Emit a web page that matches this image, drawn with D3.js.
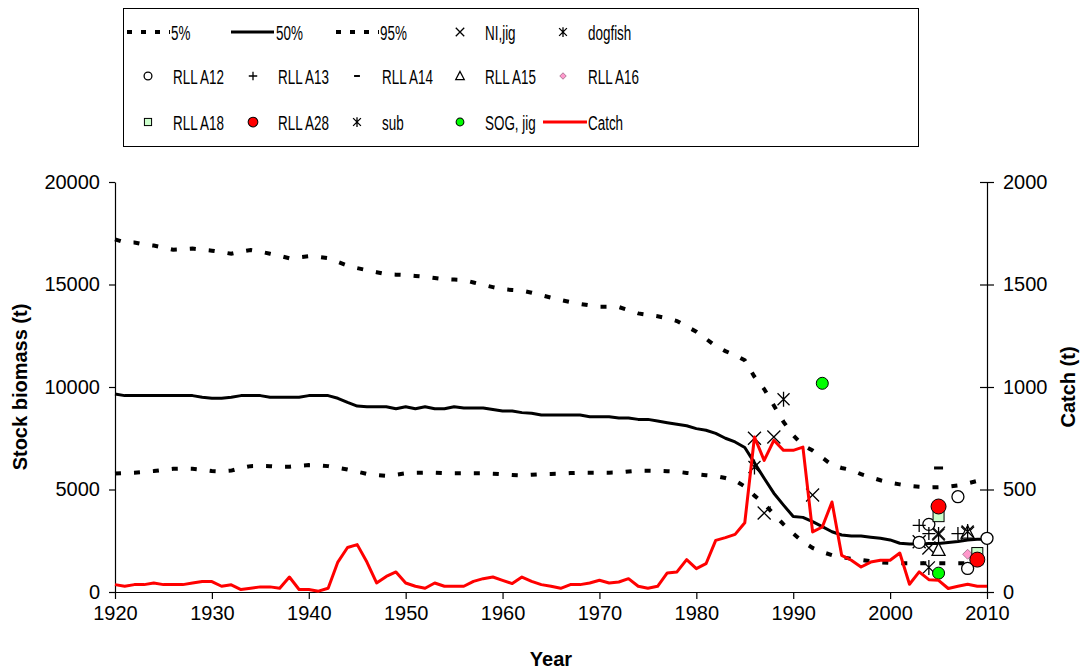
<!DOCTYPE html>
<html><head><meta charset="utf-8">
<script src="https://cdn.jsdelivr.net/npm/d3@7"></script>
<style>
body{margin:0;background:#fff;}
svg{display:block;font-family:"Liberation Sans",Arial,Helvetica,sans-serif;}
</style>
</head><body>
<svg id="chart" width="1083" height="670"></svg>
<script>
// ---------------- DATA ----------------
const years = [1920,1921,1922,1923,1924,1925,1926,1927,1928,1929,
  1930,1931,1932,1933,1934,1935,1936,1937,1938,1939,
  1940,1941,1942,1943,1944,1945,1946,1947,1948,1949,
  1950,1951,1952,1953,1954,1955,1956,1957,1958,1959,
  1960,1961,1962,1963,1964,1965,1966,1967,1968,1969,
  1970,1971,1972,1973,1974,1975,1976,1977,1978,1979,
  1980,1981,1982,1983,1984,1985,1986,1987,1988,1989,
  1990,1991,1992,1993,1994,1995,1996,1997,1998,1999,
  2000,2001,2002,2003,2004,2005,2006,2007,2008,2009,2010];

const p5 = [5780,5800,5820,5860,5900,5960,6010,6020,6010,5960,
  5900,5880,5920,6050,6140,6150,6140,6110,6110,6160,
  6190,6180,6140,6060,5980,5870,5760,5700,5660,5720,
  5790,5810,5820,5820,5800,5790,5790,5790,5790,5770,
  5740,5710,5690,5720,5750,5760,5770,5800,5820,5820,
  5820,5820,5830,5880,5920,5920,5910,5890,5870,5810,
  5750,5700,5660,5560,5430,5150,4700,4300,3800,3300,
  2850,2450,2150,1950,1800,1700,1620,1560,1500,1450,
  1420,1400,1400,1400,1400,1400,1400,1400,1400,1400,1400];

const p50 = [9660,9580,9580,9580,9580,9580,9580,9580,9580,9500,
  9450,9450,9500,9580,9580,9580,9500,9500,9500,9500,
  9580,9580,9580,9450,9250,9070,9040,9040,9040,8940,
  9040,8940,9040,8940,8940,9040,8980,8980,8980,8900,
  8830,8830,8750,8720,8630,8630,8630,8630,8630,8550,
  8550,8550,8490,8490,8420,8420,8340,8260,8180,8110,
  7970,7890,7740,7500,7320,7050,6300,5550,4820,4240,
  3680,3640,3430,3190,2940,2780,2730,2730,2670,2620,
  2540,2380,2340,2340,2370,2370,2410,2460,2540,2570,2570];

const p95 = [17200,17050,17050,16950,16900,16800,16700,16720,16750,16700,
  16650,16580,16500,16600,16680,16600,16500,16400,16280,16330,
  16380,16350,16290,16100,15920,15800,15700,15600,15500,15480,
  15460,15420,15380,15320,15260,15240,15220,15100,14980,14870,
  14770,14730,14700,14600,14480,14360,14240,14140,14050,13980,
  13920,13920,13900,13750,13590,13520,13450,13350,13220,12950,
  12700,12350,12000,11750,11550,11300,10500,9900,9100,8300,
  7650,7150,6900,6550,6200,6050,5950,5750,5600,5450,
  5330,5250,5170,5130,5100,5110,5140,5200,5300,5420,5550];

const catchT = [36,28,36,36,44,36,36,36,44,51,
  51,28,35,12,18,25,25,18,73,12,
  12,4,18,146,217,231,146,44,76,98,
  44,28,18,44,28,28,28,52,65,73,
  57,41,73,52,36,28,18,36,36,44,
  57,44,49,65,28,18,28,93,98,158,
  114,138,252,265,281,338,756,642,740,691,
  691,707,293,317,439,179,155,122,146,155,
  155,190,38,98,60,57,17,28,38,28,28];

// survey index points (stock biomass scale)
const niJigYears = [1986,1987,1988,1992,2003,2004,2005,2008];
const niJigValues = [7500,3850,7560,4730,2450,2150,2870,2870];
const dogfishYears = [1986,1989];
const dogfishValues = [6100,9400];
const rllA12Years = [2003,2004,2007,2008,2010];
const rllA12Values = [2420,3300,4650,1150,2620];
const rllA13Years = [2003,2004,2007];
const rllA13Values = [3250,2850,2850];
const rllA14Years = [2005];
const rllA14Values = [6050];
const rllA15Years = [2005,2008];
const rllA15Values = [2050,2900];
const rllA16Years = [2008];
const rllA16Values = [1840];
const rllA18Years = [2005,2009];
const rllA18Values = [3700,1900];
const rllA28Years = [2005,2009];
const rllA28Values = [4170,1580];
const subYears = [2004,2005,2008];
const subValues = [1200,2800,2950];
const sogJigYears = [1993,2005];
const sogJigValues = [10180,920];

const xTicks = [1920,1930,1940,1950,1960,1970,1980,1990,2000,2010];
const yLeftTicks = [0,5000,10000,15000,20000];
const yRightTicks = [0,500,1000,1500,2000];
const legendRows = [["5%","50%","95%","NI,jig","dogfish"],
  ["RLL A12","RLL A13","RLL A14","RLL A15","RLL A16"],
  ["RLL A18","RLL A28","sub","SOG, jig","Catch"]];

// ---------------- DRAW ----------------
const svg = d3.select("#chart");
const x = d3.scaleLinear().domain([1920,2010]).range([115,987]);
const yL = d3.scaleLinear().domain([0,20000]).range([592,182]);
const yR = d3.scaleLinear().domain([0,2000]).range([592,182]);

// axes
const gx = svg.append("g").attr("transform","translate(0,592)")
  .call(d3.axisBottom(x).tickValues(xTicks).tickFormat(d3.format("d")).tickSizeInner(7).tickSizeOuter(0).tickPadding(7));
const gl = svg.append("g").attr("transform","translate(115,0)")
  .call(d3.axisLeft(yL).tickValues(yLeftTicks).tickFormat(d3.format("d")).tickSizeInner(6).tickSizeOuter(0).tickPadding(9));
const gr = svg.append("g").attr("transform","translate(987,0)")
  .call(d3.axisRight(yR).tickValues(yRightTicks).tickFormat(d3.format("d")).tickSizeInner(7).tickSizeOuter(0).tickPadding(9));
gr.selectAll(".tick line").attr("x1",-7);
[gx,gl,gr].forEach(g=>{
  g.selectAll("text").attr("font-size",20).attr("fill","#000").attr("font-family","'Liberation Sans',Arial,sans-serif");
  g.selectAll("line").attr("stroke","#000").attr("stroke-width",1.2);
  g.select(".domain").attr("stroke","#000").attr("stroke-width",1.2);
});

// axis titles
svg.append("text").attr("x",551).attr("y",666).attr("text-anchor","middle")
  .attr("font-size",20).attr("font-weight","bold").text("Year");
svg.append("text").attr("transform","translate(27,387) rotate(-90)").attr("text-anchor","middle")
  .attr("font-size",20).attr("font-weight","bold").text("Stock biomass (t)");
svg.append("text").attr("transform","translate(1075,387) rotate(-90)").attr("text-anchor","middle")
  .attr("font-size",20).attr("font-weight","bold").text("Catch (t)");

// marker drawing
function marker(g, kind, cx, cy, s){
  const m = g.append("g").attr("transform",`translate(${cx},${cy}) scale(${s})`);
  const sw = 1.3/s;
  switch(kind){
    case "x":
      m.append("path").attr("d","M-6.5,-6.5L6.5,6.5M-6.5,6.5L6.5,-6.5").attr("stroke","#000").attr("stroke-width",sw).attr("fill","none"); break;
    case "star":
      m.append("path").attr("d","M-6,-6L6,6M-6,6L6,-6M0,-7.5L0,7.5").attr("stroke","#000").attr("stroke-width",sw).attr("fill","none"); break;
    case "circle":
      m.append("circle").attr("r",6).attr("fill","#fff").attr("stroke","#000").attr("stroke-width",sw); break;
    case "plus":
      m.append("path").attr("d","M-6.5,0H6.5M0,-6.5V6.5").attr("stroke","#000").attr("stroke-width",sw).attr("fill","none"); break;
    case "dash":
      m.append("rect").attr("x",-4.5).attr("y",-1.5).attr("width",9).attr("height",3).attr("fill","#000"); break;
    case "tri":
      m.append("path").attr("d","M0,-7L6.5,5.5L-6.5,5.5Z").attr("fill","#fff").attr("stroke","#000").attr("stroke-width",sw); break;
    case "diamond":
      m.append("path").attr("d","M0,-5L5,0L0,5L-5,0Z").attr("fill","#FF99CC").attr("stroke","#9a6a84").attr("stroke-width",0.8/s); break;
    case "square":
      m.append("rect").attr("x",-5.5).attr("y",-5.5).attr("width",11).attr("height",11).attr("fill","#CCFFCC").attr("stroke","#000").attr("stroke-width",1/s); break;
    case "redc":
      m.append("circle").attr("r",7.5).attr("fill","#FF0000").attr("stroke","#000").attr("stroke-width",1/s); break;
    case "greenc":
      m.append("circle").attr("r",6).attr("fill","#00FF00").attr("stroke","#000").attr("stroke-width",1/s); break;
  }
}

// lines
const rows = years.map((yr,i)=>({yr, p5:p5[i], p50:p50[i], p95:p95[i], c:catchT[i]}));
const lineOf = (key, scale) => d3.line().x(d=>x(d.yr)).y(d=>scale(d[key]));
const gLines = svg.append("g").attr("fill","none");
gLines.append("path").datum(rows).attr("d",lineOf("p5",yL)).attr("stroke","#000").attr("stroke-width",4).attr("stroke-dasharray","6,13");
gLines.append("path").datum(rows).attr("d",lineOf("p50",yL)).attr("stroke","#000").attr("stroke-width",3).attr("stroke-linejoin","round");
gLines.append("path").datum(rows).attr("d",lineOf("p95",yL)).attr("stroke","#000").attr("stroke-width",4).attr("stroke-dasharray","6,13");

// survey points
const surveys = [
  ["x",niJigYears,niJigValues],
  ["star",dogfishYears,dogfishValues],
  ["circle",rllA12Years,rllA12Values],
  ["plus",rllA13Years,rllA13Values],
  ["dash",rllA14Years,rllA14Values],
  ["tri",rllA15Years,rllA15Values],
  ["diamond",rllA16Years,rllA16Values],
  ["square",rllA18Years,rllA18Values],
  ["redc",rllA28Years,rllA28Values],
  ["star",subYears,subValues],
  ["greenc",sogJigYears,sogJigValues]
];
const gPts = svg.append("g");
surveys.forEach(([kind,ys,vs])=>{
  ys.forEach((yr,i)=>marker(gPts,kind,x(yr),yL(vs[i]),1));
});

// catch line (secondary axis)
svg.append("path").datum(rows).attr("d",lineOf("c",yR)).attr("fill","none")
  .attr("stroke","#FF0000").attr("stroke-width",3).attr("stroke-linejoin","round");

// legend
const lg = svg.append("g");
lg.append("rect").attr("x",123.5).attr("y",8.5).attr("width",795).attr("height",138)
  .attr("fill","#fff").attr("stroke","#000").attr("stroke-width",1);
const colX = [148,253,357,460,563];
const rowY = [32,76,122];
const legendKinds = [["dash5","solid","dash95","x","star"],
  ["circle","plus","dash","tri","diamond"],
  ["square","redc","star","greenc","red"]];
legendRows.forEach((row,r)=>{
  row.forEach((label,c)=>{
    const cx = colX[c], cy = rowY[r], kind = legendKinds[r][c];
    if(kind==="dash5"||kind==="dash95"){
      lg.append("line").attr("x1",cx-21).attr("x2",cx+22).attr("y1",cy).attr("y2",cy)
        .attr("stroke","#000").attr("stroke-width",4).attr("stroke-dasharray","5,9");
    } else if(kind==="solid"){
      lg.append("line").attr("x1",cx-22).attr("x2",cx+21).attr("y1",cy).attr("y2",cy)
        .attr("stroke","#000").attr("stroke-width",3);
    } else if(kind==="red"){
      lg.append("line").attr("x1",cx-20).attr("x2",cx+24).attr("y1",cy).attr("y2",cy)
        .attr("stroke","#FF0000").attr("stroke-width",3);
    } else {
      marker(lg,kind,cx,cy,0.65);
    }
    const tx = (kind==="dash5"||kind==="solid"||kind==="dash95") ? cx+23 : (kind==="red" ? cx+25 : cx+25);
    lg.append("text").attr("transform",`translate(${tx},${cy+7.5}) scale(0.64,1)`)
      .attr("font-size",21).attr("fill","#000").text(label);
  });
});
</script>
</body></html>
